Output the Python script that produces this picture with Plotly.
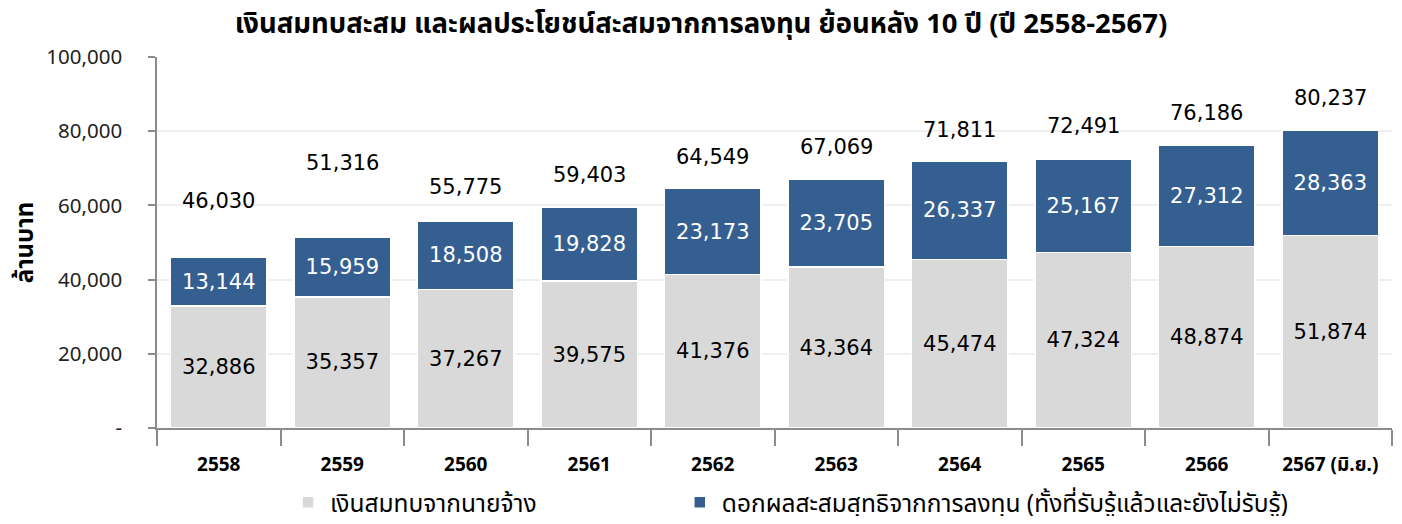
import plotly.graph_objects as go

years = ["2558", "2559", "2560", "2561", "2562", "2563", "2564", "2565", "2566", "2567 (มิ.ย.)"]
employer = [32886, 35357, 37267, 39575, 41376, 43364, 45474, 47324, 48874, 51874]
returns = [13144, 15959, 18508, 19828, 23173, 23705, 26337, 25167, 27312, 28363]
totals = [46030, 51316, 55775, 59403, 64549, 67069, 71811, 72491, 76186, 80237]

name_employer = "เงินสมทบจากนายจ้าง"
name_returns = "ดอกผลสะสมสุทธิจากการลงทุน (ทั้งที่รับรู้แล้วและยังไม่รับรู้)"
title = "เงินสมทบสะสม และผลประโยชน์สะสมจากการลงทุน ย้อนหลัง 10 ปี (ปี 2558-2567)"
y_title = "ล้านบาท"
y_ticks = [0, 20000, 40000, 60000, 80000, 100000]

# style: extra vertical lift of total labels (pixels)
label_lift = [24, 43, 2, 1, 0, 0, 0, 1, 0, 0]

NUM = "'DejaVu Sans', sans-serif"
THAI = "'Liberation Sans Narrow', 'Noto Sans Thai', 'Liberation Sans', sans-serif"

fig = go.Figure()
fig.add_bar(
    x=years, y=employer, name=name_employer, legend="legend", showlegend=True,
    marker=dict(color="#d9d9d9", line=dict(color="white", width=1.5)),
    text=[f"{v:,}" for v in employer], textposition="inside", insidetextanchor="middle",
    textfont=dict(color="black", size=21, family=NUM), textangle=0,
)
fig.add_bar(
    x=years, y=returns, name=name_returns, legend="legend2", showlegend=True,
    marker=dict(color="#355f91", line=dict(color="white", width=1.5)),
    text=[f"{v:,}" for v in returns], textposition="inside", insidetextanchor="middle",
    textfont=dict(color="white", size=21, family=NUM), textangle=0,
)

for i, (t, lift) in enumerate(zip(totals, label_lift)):
    fig.add_annotation(x=i, xref="x", y=t, text=f"{t:,}", showarrow=False, yanchor="bottom",
                       yshift=18 + lift, font=dict(size=21, color="black", family=NUM))

legend_common = dict(orientation="h", xanchor="left", yanchor="middle", y=-0.2,
                     font=dict(size=24.5, color="black", family=THAI), itemwidth=34,
                     bgcolor="rgba(0,0,0,0)")

fig.update_layout(
    barmode="stack", bargap=0.22,
    width=1386, height=508,
    margin=dict(l=149, r=2, t=49, b=88, autoexpand=False),
    plot_bgcolor="white", paper_bgcolor="white",
    showlegend=True,
    title=dict(text=f"<b>{title}</b>", x=0.5, xref="container", xanchor="center",
               y=0.97, yref="container", yanchor="middle",
               font=dict(size=27.5, color="black", family=THAI)),
    legend=dict(x=0.1045, **legend_common),
    legend2=dict(x=0.4217, **legend_common),
    uniformtext=dict(mode=False),
)
fig.update_xaxes(
    type="category", range=[-0.5, 9.5], automargin=False,
    showline=True, linecolor="#8c8c8c", linewidth=1.5,
    ticks="outside", tickson="boundaries", ticklen=16, tickcolor="#8c8c8c", tickwidth=1.5,
    tickfont=dict(size=19, color="black", family=THAI), ticklabelstandoff=18, tickangle=0,
    tickprefix="<b>", ticksuffix="</b>",
)
fig.update_yaxes(
    range=[0, 100000], tickvals=y_ticks, automargin=False,
    ticktext=["-"] + [f"{v:,}" for v in y_ticks[1:]],
    showline=True, linecolor="#8c8c8c", linewidth=1.5,
    ticks="outside", ticklen=7, tickcolor="#8c8c8c", tickwidth=1.5,
    showgrid=True, gridcolor="#efefef", gridwidth=1.5,
    tickfont=dict(size=20.5, color="#222", family=THAI), ticklabelstandoff=22,
    title=dict(text=f"<b>{y_title}</b>", font=dict(size=24, color="black", family=THAI), standoff=6),
    zeroline=False,
)

fig.write_html("out.html")
